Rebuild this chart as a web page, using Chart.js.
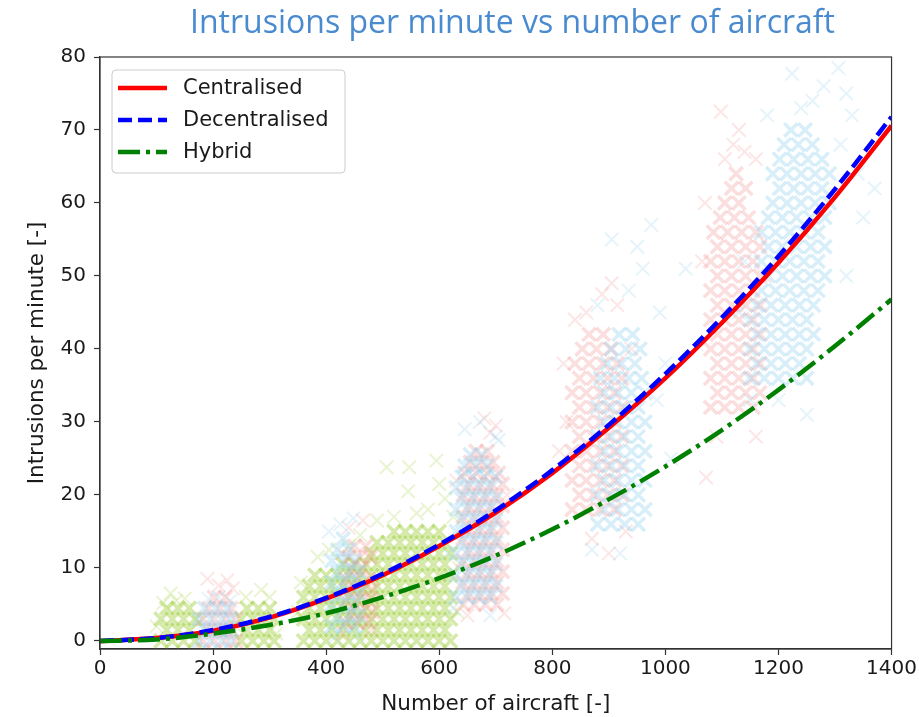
<!DOCTYPE html>
<html>
<head>
<meta charset="utf-8">
<script src="https://cdn.jsdelivr.net/npm/chart.js@4.4.1/dist/chart.umd.min.js"></script>
<style>
    html, body { margin: 0; padding: 0; background: #ffffff; }
    #wrap { position: relative; width: 919px; height: 717px; }
    #chart-title {
        position: absolute; left: 150px; top: -1px; width: 725px;
        text-align: center; white-space: nowrap;
        font-family: "Open Sans", sans-serif; font-size: 32px; color: #4a8bd0;
    }
    canvas { position: absolute; left: 0; top: 0; }
</style>
</head>
<body>
<div id="wrap">
    <canvas id="intrusions-chart" width="919" height="717"></canvas>
    <div id="chart-title">Intrusions per minute vs number of aircraft</div>
</div>
<script>
// Fitted curves, every 100 aircraft
const curveX = [0, 100, 200, 300, 400, 500, 600, 700, 800, 900, 1000, 1100, 1200, 1300, 1400];
const centralised = [0, 0.4, 1.4, 3.2, 5.8, 9.0, 13.0, 17.6, 23.0, 29.2, 36.0, 43.6, 51.8, 60.8, 70.6];
const decentralised = [0, 0.4, 1.5, 3.3, 5.9, 9.2, 13.2, 17.9, 23.4, 29.6, 36.6, 44.3, 52.7, 61.9, 71.8];
const hybrid = [0, 0.2, 1.0, 2.2, 3.8, 6.0, 8.6, 11.7, 15.3, 19.4, 23.9, 28.9, 34.4, 40.4, 46.8];

const xTicks = [0, 200, 400, 600, 800, 1000, 1200, 1400];
const yTicks = [0, 10, 20, 30, 40, 50, 60, 70, 80];

// Dense parts of the sample clouds, one row per intrusion level: [y, [aircraft...]]
const centralisedCore = [
    [0, [182, 202, 222, 240]], [1.5, [192, 212, 232]], [3, [182, 202, 222, 240]], [4.5, [192, 212, 232]], [6, [202, 222]],
    [2.5, [435, 455, 475]], [4, [445, 465, 482]], [5.5, [435, 455, 475]], [7, [445, 465, 482]],
    [8.5, [435, 455, 475]], [10, [445, 465]], [11.5, [440, 460, 478]], [13, [450, 470]],
    [5, [642, 662, 682, 702]], [6.5, [652, 672, 692, 712]], [8, [642, 662, 682, 702]], [9.5, [652, 672, 692, 712]],
    [11, [642, 662, 682, 702]], [12.5, [652, 672, 692, 712]], [14, [642, 662, 682, 702]], [15.5, [652, 672, 692, 712]],
    [17, [642, 662, 682, 702]], [18.5, [652, 672, 692, 712]], [20, [642, 662, 682, 702]], [21.5, [652, 672, 692, 712]],
    [23, [645, 665, 685, 705]], [24.5, [655, 675, 695]], [26, [665, 685]],
    [18, [835, 860, 885, 910]], [20, [848, 873, 898, 923]], [22, [835, 860, 885, 910]], [24, [848, 873, 898, 923]],
    [26, [835, 860, 885, 910]], [28, [848, 873, 898, 923]], [30, [835, 860, 885, 910]], [32, [848, 873, 898, 923]],
    [34, [835, 860, 885, 910]], [36, [848, 873, 898, 923]], [38, [840, 865, 890, 915]], [40, [853, 878, 903]], [42, [865, 890]],
    [32, [1080, 1105, 1130, 1155]], [34, [1092, 1117, 1142, 1167]], [36, [1080, 1105, 1130, 1155]], [38, [1092, 1117, 1142, 1167]],
    [40, [1080, 1105, 1130, 1155]], [42, [1092, 1117, 1142, 1167]], [44, [1080, 1105, 1130, 1155]], [46, [1092, 1117, 1142, 1167]],
    [48, [1080, 1105, 1130, 1155]], [50, [1092, 1117, 1142, 1167]], [52, [1080, 1105, 1130, 1155]], [54, [1092, 1117, 1142, 1167]],
    [56, [1085, 1110, 1135, 1160]], [58, [1097, 1122, 1147]], [60, [1105, 1130]], [62, [1117, 1142]], [64, [1125]]
];
const decentralisedCore = [
    [0, [175, 195, 215, 232]], [1.5, [185, 205, 225]], [3, [175, 195, 215, 232]], [4.5, [185, 205, 225]],
    [2, [410, 430, 450]], [3.5, [420, 440, 458]], [5, [410, 430, 450]], [6.5, [420, 440, 458]], [8, [410, 430, 450]],
    [9.5, [420, 440, 458]], [11, [410, 430, 450]], [12.5, [420, 440]], [14, [430]],
    [6, [630, 650, 670, 690]], [7.5, [640, 660, 680, 700]], [9, [630, 650, 670, 690]], [10.5, [640, 660, 680, 700]],
    [12, [630, 650, 670, 690]], [13.5, [640, 660, 680, 700]], [15, [630, 650, 670, 690]], [16.5, [640, 660, 680, 700]],
    [18, [630, 650, 670, 690]], [19.5, [640, 660, 680, 700]], [21, [630, 650, 670, 690]], [22.5, [640, 660, 680, 700]],
    [24, [645, 665, 685]], [25.5, [655, 675]],
    [16, [880, 904, 928, 952]], [18, [892, 916, 940, 964]], [20, [880, 904, 928, 952]], [22, [892, 916, 940, 964]],
    [24, [880, 904, 928, 952]], [26, [892, 916, 940, 964]], [28, [880, 904, 928, 952]], [30, [892, 916, 940, 964]],
    [32, [880, 904, 928, 952]], [34, [892, 916, 940, 964]], [36, [885, 910, 935, 958]], [38, [897, 922, 946]],
    [40, [905, 930, 955]], [42, [918, 942]],
    [36, [1150, 1175, 1200, 1225, 1250]], [38, [1162, 1187, 1212, 1237]], [40, [1150, 1175, 1200, 1225, 1250]],
    [42, [1162, 1187, 1212, 1237, 1262]], [44, [1150, 1175, 1200, 1225, 1250]], [46, [1162, 1187, 1212, 1237, 1262]],
    [48, [1170, 1195, 1220, 1245, 1270]], [50, [1182, 1207, 1232, 1257, 1282]], [52, [1170, 1195, 1220, 1245, 1270]],
    [54, [1182, 1207, 1232, 1257, 1282]], [56, [1170, 1195, 1220, 1245, 1270]], [58, [1182, 1207, 1232, 1257, 1282]],
    [60, [1190, 1215, 1240, 1265, 1290]], [62, [1202, 1227, 1252, 1277]], [64, [1190, 1215, 1240, 1265, 1290]],
    [66, [1202, 1227, 1252, 1277]], [68, [1210, 1235, 1260]], [70, [1222, 1247]]
];
const hybridCore = [
    [0, [108, 128, 148, 168, 250, 270, 290, 308, 360, 380, 400, 420, 440, 460, 480, 500, 520, 540, 560, 580, 600, 620]],
    [1.5, [118, 138, 158, 260, 280, 300, 370, 390, 410, 430, 450, 470, 490, 510, 530, 550, 570, 590, 610]],
    [3, [108, 128, 148, 168, 250, 270, 290, 308, 360, 380, 400, 420, 440, 460, 480, 500, 520, 540, 560, 580, 600, 620]],
    [4.5, [118, 138, 158, 260, 280, 300, 370, 390, 410, 430, 450, 470, 490, 510, 530, 550, 570, 590, 610]],
    [6, [360, 380, 400, 420, 440, 460, 480, 500, 520, 540, 560, 580, 600, 620]],
    [7.5, [370, 390, 410, 430, 450, 470, 490, 510, 530, 550, 570, 590, 610]],
    [9, [380, 400, 420, 440, 460, 480, 500, 520, 540, 560, 580, 600, 620]],
    [10.5, [430, 450, 470, 490, 510, 530, 550, 570, 590, 610]],
    [12, [480, 500, 520, 540, 560, 580, 600, 620]],
    [13.5, [490, 510, 530, 550, 570, 590, 610]],
    [15, [520, 540, 560, 580, 600]]
];

// Loose samples around the clouds: [aircraft, intrusions/min]
const centralisedSpread = [
    [210, 7.6], [190, 8.5], [235, 7.2], [225, 8.3], [440, 15.5], [465, 16.5], [480, 1.5], [430, 1], [428, 12],
    [680, 30.5], [700, 29.5], [650, 3.5], [715, 3.8], [630, 22], [720, 20], [690, 28.5],
    [888, 47.5], [820, 38], [840, 44], [915, 46], [900, 12], [870, 14], [930, 15], [812, 26], [940, 40],
    [860, 45], [905, 49], [825, 30], [1098, 72.5], [1140, 67], [1120, 68], [1072, 22.4], [1160, 28],
    [1090, 28], [1175, 50], [1065, 52], [1160, 66], [1070, 60], [1130, 70], [1105, 66]
];
const decentralisedSpread = [
    [210, 6], [192, 5.8], [230, 5.5], [425, 16], [448, 16.8], [405, 15], [455, 0.8], [415, 0.5],
    [700, 28], [645, 29], [672, 30], [625, 4.5], [690, 3.5], [705, 27.5], [615, 12],
    [880, 46], [935, 48], [960, 51], [905, 55], [950, 54], [990, 45], [870, 12.5], [920, 12], [985, 33],
    [1000, 38], [975, 57], [1036, 51], [1010, 25], [1224, 77.7], [1306, 78.5], [1260, 74], [1330, 72],
    [1340, 64], [1310, 68], [1150, 33], [1200, 33], [1130, 45], [1350, 58], [1180, 72], [1280, 76],
    [1320, 75], [1370, 62], [1240, 73], [1140, 52], [1320, 50], [1250, 31]
];
const hybridSpread = [
    [150, 5.8], [125, 6.5], [100, 2], [175, 2.5], [135, 5.5], [112, 5.2], [258, 6], [285, 7], [300, 6],
    [240, 2], [312, 1], [405, 12.5], [440, 13], [460, 14.5], [385, 11.5], [350, 4], [355, 8],
    [520, 17], [580, 18], [610, 19.5], [545, 20.5], [600, 21.5], [507, 23.8], [547, 23.8], [595, 24.7],
    [490, 16.5], [625, 17], [560, 17.5], [635, 10], [632, 4]
];

const toXY = (xs, ys) => xs.map((x, i) => ({ x: x, y: ys[i] }));
const toPts = pts => pts.map(p => ({ x: p[0], y: p[1] }));
const rowsToPts = rows => rows.flatMap(r => r[1].map(x => ({ x: x, y: r[0] })));

// Boxed legend in the top-left corner of the plot, like the original figure
const cornerLegend = {
    id: 'cornerLegend',
    afterDraw(chart) {
        const ctx = chart.ctx;
        const area = chart.chartArea;
        const items = chart.data.datasets.filter(d => d.showLine);
        const left = area.left + 12, top = area.top + 13;
        ctx.save();
        ctx.beginPath();
        ctx.roundRect(left, top, 233, 103, 4);
        ctx.fillStyle = 'rgba(255,255,255,0.85)';
        ctx.fill();
        ctx.strokeStyle = '#cccccc';
        ctx.lineWidth = 1;
        ctx.stroke();
        ctx.font = '21px "DejaVu Sans"';
        ctx.textBaseline = 'middle';
        items.forEach((d, i) => {
            const y = top + 18 + i * 32;
            ctx.beginPath();
            ctx.setLineDash(d.borderDash || []);
            ctx.strokeStyle = d.borderColor;
            ctx.lineWidth = d.borderWidth;
            ctx.moveTo(left + 6, y);
            ctx.lineTo(left + 55, y);
            ctx.stroke();
            ctx.setLineDash([]);
            ctx.fillStyle = '#1a1a1a';
            ctx.fillText(d.label, left + 71, y + 1);
        });
        // full box around the axes
        ctx.strokeStyle = '#333333';
        ctx.lineWidth = 1.2;
        ctx.strokeRect(area.left, area.top, area.right - area.left, area.bottom - area.top);
        ctx.restore();
    }
};

const scatterSet = (label, pts, color, width, order) => ({
    type: 'scatter',
    label: label,
    data: pts,
    showLine: false,
    pointStyle: 'crossRot',
    pointRadius: 9.5,
    pointHoverRadius: 9.5,
    pointBorderWidth: width,
    borderColor: color,
    backgroundColor: color,
    order: order
});

const lineSet = (label, ys, color, dash, order) => ({
    type: 'line',
    label: label,
    data: toXY(curveX, ys),
    showLine: true,
    borderColor: color,
    borderWidth: 4.5,
    borderDash: dash,
    pointRadius: 0,
    cubicInterpolationMode: 'monotone',
    fill: false,
    order: order
});

const tickFont = { family: 'DejaVu Sans', size: 20 };
const titleFont = { family: 'DejaVu Sans', size: 21.5 };

new Chart(document.getElementById('intrusions-chart'), {
    type: 'scatter',
    data: {
        datasets: [
            scatterSet('Centralised core', rowsToPts(centralisedCore), 'rgba(240,128,128,0.26)', 3.5, 13),
            scatterSet('Centralised spread', toPts(centralisedSpread), 'rgba(240,128,128,0.2)', 2, 13),
            scatterSet('Decentralised core', rowsToPts(decentralisedCore), 'rgba(135,206,235,0.32)', 3.5, 12),
            scatterSet('Decentralised spread', toPts(decentralisedSpread), 'rgba(135,206,235,0.22)', 2, 12),
            scatterSet('Hybrid core', rowsToPts(hybridCore), 'rgba(154,205,50,0.42)', 3.5, 14),
            scatterSet('Hybrid spread', toPts(hybridSpread), 'rgba(154,205,50,0.22)', 2, 14),
            lineSet('Centralised', centralised, '#ff0000', [], 3),
            lineSet('Decentralised', decentralised, '#0000ff', [14, 6], 2),
            lineSet('Hybrid', hybrid, '#008000', [22, 6, 4, 6], 1)
        ]
    },
    options: {
        responsive: false,
        animation: false,
        devicePixelRatio: 1,
        layout: { padding: { top: 57, right: 26, left: 0, bottom: 0 } },
        plugins: {
            legend: { display: false },
            tooltip: { enabled: false }
        },
        scales: {
            x: {
                type: 'linear',
                min: 0,
                max: 1400,
                afterFit: scale => { scale.height = 68; },
                afterBuildTicks: scale => { scale.ticks = xTicks.map(v => ({ value: v })); },
                grid: { drawOnChartArea: false, tickLength: 6, tickColor: '#333333', tickWidth: 1.2 },
                border: { color: '#333333', width: 1.2 },
                ticks: { color: '#1a1a1a', padding: 2, font: tickFont, maxRotation: 0, callback: v => String(v) },
                title: {
                    display: true,
                    text: 'Number of aircraft [-]',
                    color: '#1a1a1a',
                    font: titleFont,
                    padding: { top: 0, bottom: 0 }
                }
            },
            y: {
                type: 'linear',
                min: -1.1,
                max: 80,
                afterFit: scale => { scale.width = 100; },
                afterBuildTicks: scale => { scale.ticks = yTicks.map(v => ({ value: v })); },
                grid: { drawOnChartArea: false, tickLength: 6, tickColor: '#333333', tickWidth: 1.2 },
                border: { color: '#333333', width: 1.2 },
                ticks: { color: '#1a1a1a', padding: 8, font: tickFont, callback: v => String(v) },
                title: {
                    display: true,
                    text: 'Intrusions per minute [-]',
                    color: '#1a1a1a',
                    font: titleFont,
                    padding: { top: 25, bottom: 0 }
                }
            }
        }
    },
    plugins: [cornerLegend]
});
</script>
</body>
</html>
